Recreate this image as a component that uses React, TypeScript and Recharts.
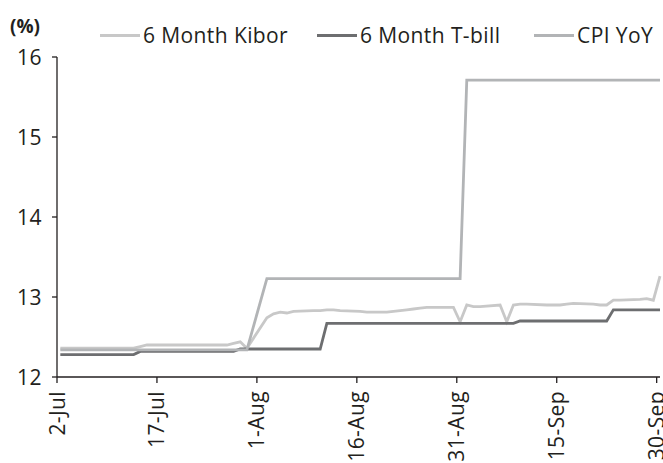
import React from "react";
import { LineChart, Line, XAxis, YAxis } from "recharts";

const dates = [
  "2-Jul", "5-Jul", "6-Jul", "7-Jul", "8-Jul", "9-Jul", "12-Jul", "13-Jul", "14-Jul", "15-Jul", "16-Jul",
  "19-Jul", "20-Jul", "21-Jul", "22-Jul", "23-Jul", "26-Jul", "27-Jul", "28-Jul", "29-Jul", "30-Jul",
  "2-Aug", "3-Aug", "4-Aug", "5-Aug", "6-Aug", "9-Aug", "10-Aug", "11-Aug", "12-Aug", "13-Aug",
  "16-Aug", "17-Aug", "18-Aug", "19-Aug", "20-Aug", "23-Aug", "24-Aug", "25-Aug", "26-Aug", "27-Aug",
  "30-Aug", "31-Aug", "1-Sep", "2-Sep", "3-Sep", "6-Sep", "7-Sep", "8-Sep", "9-Sep", "10-Sep",
  "13-Sep", "14-Sep", "15-Sep", "16-Sep", "17-Sep", "20-Sep", "21-Sep", "22-Sep", "23-Sep", "24-Sep",
  "27-Sep", "28-Sep", "29-Sep", "30-Sep",
];

const kibor = [
  12.36, 12.36, 12.36, 12.36, 12.36, 12.36, 12.36, 12.36, 12.38, 12.40, 12.40,
  12.40, 12.40, 12.40, 12.40, 12.40, 12.40, 12.40, 12.42, 12.44, 12.36,
  12.74, 12.79, 12.81, 12.80, 12.82, 12.83, 12.83, 12.84, 12.84, 12.83,
  12.82, 12.81, 12.81, 12.81, 12.81, 12.84, 12.85, 12.86, 12.87, 12.87,
  12.87, 12.69, 12.90, 12.88, 12.88, 12.90, 12.69, 12.90, 12.91, 12.91,
  12.90, 12.90, 12.90, 12.91, 12.92, 12.91, 12.90, 12.90, 12.96, 12.96,
  12.97, 12.98, 12.96, 13.26,
];

const tbill = [
  12.28, 12.28, 12.28, 12.28, 12.28, 12.28, 12.28, 12.28, 12.32, 12.32, 12.32,
  12.32, 12.32, 12.32, 12.32, 12.32, 12.32, 12.32, 12.32, 12.35, 12.35,
  12.35, 12.35, 12.35, 12.35, 12.35, 12.35, 12.35, 12.67, 12.67, 12.67,
  12.67, 12.67, 12.67, 12.67, 12.67, 12.67, 12.67, 12.67, 12.67, 12.67,
  12.67, 12.67, 12.67, 12.67, 12.67, 12.67, 12.67, 12.67, 12.70, 12.70,
  12.70, 12.70, 12.70, 12.70, 12.70, 12.70, 12.70, 12.70, 12.84, 12.84,
  12.84, 12.84, 12.84, 12.84,
];

const cpi = [
  12.34, 12.34, 12.34, 12.34, 12.34, 12.34, 12.34, 12.34, 12.34, 12.34, 12.34,
  12.34, 12.34, 12.34, 12.34, 12.34, 12.34, 12.34, 12.34, 12.34, 12.34,
  13.23, 13.23, 13.23, 13.23, 13.23, 13.23, 13.23, 13.23, 13.23, 13.23,
  13.23, 13.23, 13.23, 13.23, 13.23, 13.23, 13.23, 13.23, 13.23, 13.23,
  13.23, 13.23, 15.71, 15.71, 15.71, 15.71, 15.71, 15.71, 15.71, 15.71,
  15.71, 15.71, 15.71, 15.71, 15.71, 15.71, 15.71, 15.71, 15.71, 15.71,
  15.71, 15.71, 15.71, 15.71,
];

const tickLabels = ["2-Jul", "17-Jul", "1-Aug", "16-Aug", "31-Aug", "15-Sep", "30-Sep"];
const yTicks = [12, 13, 14, 15, 16];

const seriesNames = ["6 Month Kibor", "6 Month T-bill", "CPI YoY"];
const colors = ["#c8c8c8", "#6d6e70", "#b2b4b6"];

const monthStart: Record<string, number> = { Jul: -2, Aug: 29, Sep: 60 };
const dayIndex = (s: string) => {
  const [d, m] = s.split("-");
  return Number(d) + monthStart[m];
};

const data = dates.map((s, i) => ({
  x: dayIndex(s) + 0.5,
  kibor: kibor[i],
  tbill: tbill[i],
  cpi: cpi[i],
}));

const xTicks = tickLabels.map((s) => dayIndex(s));
const tickLabelFor: Record<number, string> = {};
tickLabels.forEach((s) => (tickLabelFor[dayIndex(s)] = s));

const FONT = "'Open Sans', 'DejaVu Sans', sans-serif";
const TEXT = "#231f20";

const XTick = (props: any) => {
  const { x, y, payload } = props;
  return (
    <text
      x={x}
      y={y}
      transform={`rotate(-90, ${x}, ${y})`}
      textAnchor="end"
      dy="0.36em"
      fontFamily={FONT}
      fontSize={21}
      letterSpacing={0.4}
      fill={TEXT}
    >
      {tickLabelFor[payload.value]}
    </text>
  );
};

const YTick = (props: any) => {
  const { x, y, payload } = props;
  return (
    <text x={x} y={y} textAnchor="end" dy="0.36em" fontFamily={FONT} fontSize={21} letterSpacing={0.5} fill={TEXT}>
      {payload.value}
    </text>
  );
};

const legendLefts = [100, 317, 534];

export default function App() {
  return (
    <div style={{ position: "absolute", left: 0, top: 0, width: 663, height: 463, background: "#fff" }}>
      <LineChart width={663} height={463} data={data} margin={{ top: 57, right: 3, bottom: 0, left: 0 }}>
        <XAxis
          dataKey="x"
          type="number"
          domain={[0, 90.5]}
          ticks={xTicks}
          tick={<XTick />}
          tickSize={6}
          tickMargin={8}
          height={86}
          interval={0}
          stroke={TEXT}
          strokeWidth={1.3}
        />
        <YAxis
          type="number"
          domain={[12, 16]}
          ticks={yTicks}
          tick={<YTick />}
          tickSize={5}
          tickMargin={10}
          width={57}
          interval={0}
          stroke={TEXT}
          strokeWidth={1.3}
        />
        <Line dataKey="kibor" name={seriesNames[0]} stroke={colors[0]} strokeWidth={2.8} dot={false} isAnimationActive={false} />
        <Line dataKey="tbill" name={seriesNames[1]} stroke={colors[1]} strokeWidth={2.8} dot={false} isAnimationActive={false} />
        <Line dataKey="cpi" name={seriesNames[2]} stroke={colors[2]} strokeWidth={2.8} dot={false} isAnimationActive={false} />
      </LineChart>
      <div
        style={{
          position: "absolute",
          left: 10,
          top: 14,
          fontFamily: FONT,
          fontWeight: 700,
          fontSize: 19,
          color: TEXT,
          lineHeight: "24px",
        }}
      >
        (%)
      </div>
      {seriesNames.map((n, i) => (
        <div
          key={n}
          style={{
            position: "absolute",
            left: legendLefts[i],
            top: 21,
            height: 28,
            display: "flex",
            alignItems: "center",
            fontFamily: FONT,
            fontSize: 21,
            letterSpacing: 0.4,
            color: TEXT,
            whiteSpace: "nowrap",
          }}
        >
          <div style={{ width: 40, height: 3, background: colors[i], marginRight: 3 }} />
          <span>{n}</span>
        </div>
      ))}
    </div>
  );
}
